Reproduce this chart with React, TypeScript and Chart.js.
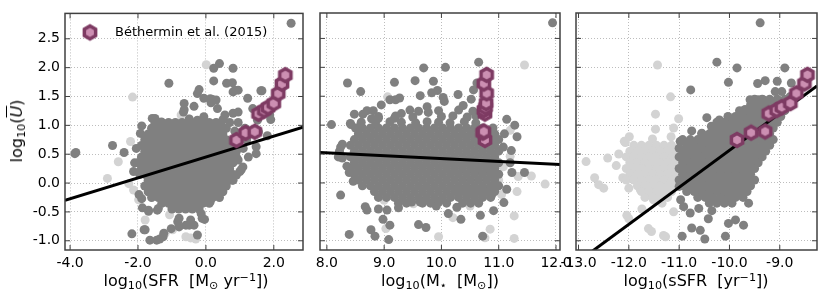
import React, { useEffect, useRef } from "react";
import { Chart, registerables } from "chart.js";

Chart.register(...registerables);

type P = [number, number];
type Row = [number, number[]]; // [U value, list of x values along that row]

// ---------- Béthermin et al. (2015) stacked points ----------
const bethU = [0.745, 0.87, 0.89, 1.2, 1.26, 1.31, 1.38, 1.55, 1.72, 1.87];
const bethSFR = [0.9, 1.17, 1.44, 1.55, 1.72, 1.83, 2.0, 2.13, 2.24, 2.34];
const bethMstar = [10.76, 10.72, 10.74, 10.76, 10.74, 10.77, 10.78, 10.79, 10.74, 10.79];
const bethSSFR = [-9.85, -9.57, -9.29, -9.22, -9.06, -8.96, -8.79, -8.67, -8.51, -8.45];

// ---------- axis ranges & ticks ----------
const uRange: P = [-1.16, 2.94];
const sfrRange: P = [-4.15, 2.86];
const mRange: P = [7.88, 12.07];
const ssfrRange: P = [-13.05, -8.26];
const uTicks = [-1, -0.5, 0, 0.5, 1, 1.5, 2, 2.5];
const sfrTicks = [-4, -2, 0, 2];
const mTicks = [8, 9, 10, 11, 12];
const ssfrTicks = [-13, -12, -11, -10, -9];

// ---------- fit lines ----------
const fitSFR = { slope: 0.181, pivot: 0, at: 0.451 };
const fitM = { slope: -0.049, pivot: 10, at: 0.421 };
const fitSSFR = { slope: 0.64, pivot: -10, at: 0.564 };

// ---------- panel 1: SFR vs U ----------
const sfrDark: P[] = [
  [2.51, 2.77], [-3.83, 0.53], [-2.75, 0.65], [-2.41, 0.53], [-2.13, 0.2], [-2.18, -0.88], [-1.82, -0.81],
  [-1.87, -0.43], [-1.69, -0.49], [-1.43, -0.47], [-1.65, -0.99], [-1.36, -0.97], [-1.24, -0.87], [-1.09, 1.73],
  [-0.79, -0.61], [-0.79, -0.76], [-0.49, -0.73], [-0.45, -0.64], [-0.25, -0.9], [-0.06, -0.34], [-0.14, -0.53],
  [-0.04, -0.63], [0.4, 2.07], [0.23, 1.99], [0.8, 1.99], [0.23, 1.77], [0.61, 1.73], [0.78, 1.74], [0.86, 1.61],
  [-0.2, 1.62], [-0.25, 1.55], [-0.06, 1.47], [0.3, 1.44], [0.15, 1.39], [0.34, 1.29], [-0.64, 1.27], [-0.49, 1.11],
  [-0.25, 1.09], [1.62, 1.6], [1.38, 1.29], [1.88, 1.18], [1.91, 1.1], [1.81, 0.82], [1.48, 0.63], [1.04, 0.23],
  [0.9, 0.14], [0.78, 0.05], [-1.58, 1.12], [-1.31, 1.06], [-1.89, 0.99], [-1.93, 0.86], [-1.84, 0.46],
  [-0.64, 1.38], [-0.35, 1.33], [-0.66, 1.23], [0.13, 1.46], [0.19, 1.45], [0.8, 1.58], [0.95, 1.61], [1.23, 1.47],
  [1.65, 1.6], [0.8, 1.21], [0.95, 1.23], [0.56, 1.18], [-0.06, 1.15], [-1.5, 1.12], [-1.52, 0.98], [1.52, 1.09],
  [1.55, 0.89], [1.86, 1.32], [1.48, 0.51], [1.09, 0.28], [1.0, 0.2], [0.8, 0.05], [0.42, -0.15], [0.13, -0.32],
  [-0.11, -0.32], [-0.11, -0.61], [-0.35, -0.73], [-0.59, -0.73], [-0.83, -0.67], [-1.02, -0.79], [-1.26, -0.93],
  [-1.45, -0.99], [-1.79, -0.81], [-1.69, -0.47], [-1.4, -0.44], [-1.89, -0.27], [-1.97, -0.2], [-3.86, 0.51],
  [1.2, 0.75], [1.1, 0.6], [1.25, 0.45], [1.15, 0.95], [0.95, 1.05], [0.7, 1.05], [0.5, 1.1], [0.85, 0.9],
  [0.9, 0.55], [0.95, 0.4], [0.6, 0.95], [0.45, 1.0], [-2.05, 0.6], [-2.1, 0.35], [-1.95, 0.15],
];
const sfrCore: Row[] = [
  [1.05, [-1.5, -1.3, -1.1, -0.9, -0.7, -0.5, -0.3, -0.1, 0.1, 0.3]],
  [0.95, [-1.6, -1.4, -1.2, -1.0, -0.8, -0.6, -0.4, -0.2, 0.0, 0.2, 0.4]],
  [0.85, [-1.7, -1.5, -1.3, -1.1, -0.9, -0.7, -0.5, -0.3, -0.1, 0.1, 0.3, 0.5]],
  [0.75, [-1.8, -1.6, -1.4, -1.2, -1.0, -0.8, -0.6, -0.4, -0.2, 0.0, 0.2, 0.4, 0.6]],
  [0.65, [-1.9, -1.7, -1.5, -1.3, -1.1, -0.9, -0.7, -0.5, -0.3, -0.1, 0.1, 0.3, 0.5, 0.7]],
  [0.55, [-1.8, -1.6, -1.4, -1.2, -1.0, -0.8, -0.6, -0.4, -0.2, 0.0, 0.2, 0.4, 0.6, 0.8]],
  [0.45, [-1.9, -1.7, -1.5, -1.3, -1.1, -0.9, -0.7, -0.5, -0.3, -0.1, 0.1, 0.3, 0.5, 0.7, 0.9]],
  [0.35, [-2.0, -1.8, -1.6, -1.4, -1.2, -1.0, -0.8, -0.6, -0.4, -0.2, 0.0, 0.2, 0.4, 0.6, 0.8]],
  [0.25, [-1.9, -1.7, -1.5, -1.3, -1.1, -0.9, -0.7, -0.5, -0.3, -0.1, 0.1, 0.3, 0.5, 0.7]],
  [0.15, [-1.8, -1.6, -1.4, -1.2, -1.0, -0.8, -0.6, -0.4, -0.2, 0.0, 0.2, 0.4, 0.6, 0.8]],
  [0.05, [-1.7, -1.5, -1.3, -1.1, -0.9, -0.7, -0.5, -0.3, -0.1, 0.1, 0.3, 0.5, 0.7]],
  [-0.05, [-1.8, -1.6, -1.4, -1.2, -1.0, -0.8, -0.6, -0.4, -0.2, 0.0, 0.2, 0.4, 0.6]],
  [-0.15, [-1.7, -1.5, -1.3, -1.1, -0.9, -0.7, -0.5, -0.3, -0.1, 0.1, 0.3, 0.5]],
  [-0.25, [-1.6, -1.4, -1.2, -1.0, -0.8, -0.6, -0.4, -0.2, 0.0, 0.2, 0.4]],
  [-0.35, [-1.3, -1.1, -0.9, -0.7, -0.5, -0.3, -0.1, 0.1]],
  [-0.45, [-1.0, -0.8, -0.6, -0.4, -0.2]],
];
const sfrLight: P[] = [
  [0.01, 2.05], [-2.16, 1.49], [-0.73, 1.18], [-0.5, 1.11], [-1.17, 0.92], [-2.22, 0.72], [-1.79, 0.76],
  [-2.58, 0.37], [-2.9, 0.08], [-2.27, -0.01], [-1.98, -0.29], [-1.79, -0.64], [-1.07, -0.55], [-0.98, -0.81],
  [-0.59, -0.93], [-0.45, -0.95], [-1.2, -0.87], [0.52, -0.01], [-1.65, 0.41], [-2.13, -0.12], [-0.3, -0.97],
];

// ---------- panel 2: M* vs U ----------
const mDark: P[] = [
  [11.94, 2.77], [10.65, 2.09], [10.07, 2.0], [9.69, 1.99], [8.36, 1.73], [9.18, 1.74], [9.54, 1.77], [9.86, 1.76],
  [8.59, 1.58], [8.08, 1.01], [8.41, 1.03], [8.22, 0.55], [8.27, 0.67], [8.24, -0.21], [8.39, -0.89], [8.67, -0.41],
  [8.7, -0.47], [8.77, -0.81], [8.84, -0.92], [9.08, -0.98], [8.98, -0.63], [9.1, -0.73], [9.05, -0.47], [8.9, -0.45],
  [9.6, -0.72], [9.73, -0.77], [10.34, -0.63], [10.68, -0.56], [10.72, -0.92], [11.09, -0.34], [11.14, -0.11],
  [11.23, 0.18], [11.45, 0.18], [11.08, 0.62], [11.22, 0.56], [11.32, 0.8], [11.28, 1.0], [11.14, 1.1], [10.56, 1.61],
  [10.62, 1.73], [8.95, 1.35], [9.1, 1.44], [9.2, 1.44], [9.27, 1.47], [9.63, 1.51], [9.83, 1.56], [9.93, 1.6],
  [10.03, 1.48], [10.05, 1.41], [10.29, 1.53], [10.38, 1.34], [10.52, 1.45], [9.75, 1.32], [9.77, 1.22], [8.81, 1.25],
  [8.48, 1.19], [8.63, 1.19], [8.78, 1.11], [8.9, 1.12], [9.18, 1.12], [9.3, 1.2], [8.42, 1.01], [8.59, 1.0],
  [8.24, 0.62], [8.2, 0.45], [8.27, 0.43], [8.35, 0.29], [8.39, 0.18], [8.46, 0.03], [9.25, -0.43], [9.48, -0.33],
  [9.63, -0.33], [9.91, -0.4], [9.95, -0.33], [10.27, -0.15], [10.45, -0.16], [10.56, -0.18], [10.76, -0.15],
  [10.88, -0.2], [10.94, -0.05], [10.91, -0.48], [10.12, -0.53], [10.27, -0.42], [11.2, 0.35], [11.1, 0.85],
  [8.7, 1.25], [9.45, 1.26], [9.6, 1.24], [9.95, 1.25], [10.3, 1.26], [10.55, 1.24],
  [8.9, 1.15], [9.2, 1.16], [9.5, 1.14], [10.0, 1.15], [10.2, 1.16], [10.45, 1.14], [10.6, 1.16],
  [8.6, 1.05], [8.85, 1.04], [9.1, 1.06], [9.3, 1.05], [9.55, 1.04], [9.75, 1.06], [9.95, 1.05], [10.15, 1.04],
  [10.4, 1.06], [10.6, 1.04], [8.5, 0.95], [10.9, 0.95],
];
const mCore: Row[] = [
  [0.95, [8.62, 8.76, 8.9, 9.04, 9.18, 9.32, 9.46, 9.6, 9.74, 9.88, 10.02, 10.16, 10.3, 10.44, 10.58, 10.72]],
  [0.85, [8.55, 8.69, 8.83, 8.97, 9.11, 9.25, 9.39, 9.53, 9.67, 9.81, 9.95, 10.09, 10.23, 10.37, 10.51, 10.65, 10.79, 10.93]],
  [0.75, [8.48, 8.62, 8.76, 8.9, 9.04, 9.18, 9.32, 9.46, 9.6, 9.74, 9.88, 10.02, 10.16, 10.3, 10.44, 10.58, 10.72, 10.86, 11.0]],
  [0.65, [8.41, 8.55, 8.69, 8.83, 8.97, 9.11, 9.25, 9.39, 9.53, 9.67, 9.81, 9.95, 10.09, 10.23, 10.37, 10.51, 10.65, 10.79, 10.93]],
  [0.55, [8.48, 8.62, 8.76, 8.9, 9.04, 9.18, 9.32, 9.46, 9.6, 9.74, 9.88, 10.02, 10.16, 10.3, 10.44, 10.58, 10.72, 10.86, 11.0]],
  [0.45, [8.41, 8.55, 8.69, 8.83, 8.97, 9.11, 9.25, 9.39, 9.53, 9.67, 9.81, 9.95, 10.09, 10.23, 10.37, 10.51, 10.65, 10.79, 10.93]],
  [0.35, [8.48, 8.62, 8.76, 8.9, 9.04, 9.18, 9.32, 9.46, 9.6, 9.74, 9.88, 10.02, 10.16, 10.3, 10.44, 10.58, 10.72, 10.86, 11.0]],
  [0.25, [8.41, 8.55, 8.69, 8.83, 8.97, 9.11, 9.25, 9.39, 9.53, 9.67, 9.81, 9.95, 10.09, 10.23, 10.37, 10.51, 10.65, 10.79, 10.93]],
  [0.15, [8.48, 8.62, 8.76, 8.9, 9.04, 9.18, 9.32, 9.46, 9.6, 9.74, 9.88, 10.02, 10.16, 10.3, 10.44, 10.58, 10.72, 10.86, 11.0]],
  [0.05, [8.55, 8.69, 8.83, 8.97, 9.11, 9.25, 9.39, 9.53, 9.67, 9.81, 9.95, 10.09, 10.23, 10.37, 10.51, 10.65, 10.79, 10.93]],
  [-0.05, [8.62, 8.76, 8.9, 9.04, 9.18, 9.32, 9.46, 9.6, 9.74, 9.88, 10.02, 10.16, 10.3, 10.44, 10.58, 10.72, 10.86, 11.0]],
  [-0.15, [8.83, 8.97, 9.11, 9.25, 9.39, 9.53, 9.67, 9.81, 9.95, 10.09, 10.23, 10.37, 10.51, 10.65, 10.79, 10.93]],
  [-0.25, [8.9, 9.04, 9.18, 9.32, 9.46, 9.6, 9.74, 9.88, 10.02, 10.16, 10.3, 10.44, 10.58, 10.72, 10.86]],
  [-0.35, [9.25, 9.39, 9.67, 9.81, 10.09, 10.37, 10.51, 10.65]],
];
const mLight: P[] = [
  [11.45, 2.04], [9.06, 1.49], [10.97, 0.8], [11.2, 0.46], [11.08, 0.28], [11.34, 0.11], [11.57, 0.12], [11.81, -0.02],
  [11.32, -0.15], [11.27, -0.57], [11.27, -0.96], [10.85, -0.8], [10.76, -0.95], [9.95, -0.93], [10.27, -0.43],
  [10.5, -0.4], [10.44, -0.09], [10.63, -0.12], [9.03, -0.79], [9.51, -0.36], [11.2, 0.91], [11.0, 0.05],
  [11.05, -0.2], [10.2, -0.6], [9.0, -0.3],
];

// ---------- panel 3: sSFR vs U ----------
const ssfrDark: P[] = [
  [-9.39, 2.77], [-10.25, 2.09], [-9.85, 1.99], [-8.9, 1.99], [-10.02, 1.74], [-10.77, 1.61], [-9.44, 1.72],
  [-9.29, 1.77], [-9.05, 1.76], [-8.77, 1.73], [-10.45, 1.13], [-10.2, 1.09], [-10.36, 0.98], [-10.75, 0.9],
  [-10.55, 0.86], [-10.98, 0.72], [-9.59, 1.44], [-9.43, 1.44], [-9.33, 1.44], [-9.09, 1.58], [-8.96, 1.58],
  [-8.8, 1.49], [-9.69, 1.27], [-9.45, 1.27], [-9.82, 1.12], [-10.08, 1.0], [-10.18, 0.86], [-10.35, 0.78],
  [-10.97, -0.29], [-10.91, -0.41], [-10.78, -0.52], [-10.75, -0.78], [-10.58, -0.82], [-10.49, -0.97],
  [-10.94, -0.92], [-10.42, -0.62], [-10.02, -0.7], [-9.88, -0.64], [-9.72, -0.73], [-10.08, -0.92],
  [-9.62, -0.35], [-10.35, -0.48], [-10.61, -0.44], [-11.0, 0.6], [-11.0, -0.06],
];
const ssfrCore: Row[] = [
  [1.45, [-9.5, -9.35, -9.2, -9.05, -8.9, -8.75]],
  [1.35, [-9.58, -9.43, -9.28, -9.13, -8.98, -8.83]],
  [1.25, [-9.8, -9.65, -9.5, -9.35, -9.2, -9.05, -8.9]],
  [1.15, [-10.03, -9.88, -9.73, -9.58, -9.43, -9.28, -9.13, -8.98]],
  [1.05, [-10.25, -10.1, -9.95, -9.8, -9.65, -9.5, -9.35, -9.2, -9.05]],
  [0.95, [-10.33, -10.18, -10.03, -9.88, -9.73, -9.58, -9.43, -9.28, -9.13]],
  [0.85, [-10.55, -10.4, -10.25, -10.1, -9.95, -9.8, -9.65, -9.5, -9.35, -9.2]],
  [0.75, [-10.93, -10.78, -10.63, -10.48, -10.33, -10.18, -10.03, -9.88, -9.73, -9.58, -9.43, -9.28, -9.13]],
  [0.65, [-10.85, -10.7, -10.55, -10.4, -10.25, -10.1, -9.95, -9.8, -9.65, -9.5, -9.35, -9.2]],
  [0.55, [-10.93, -10.78, -10.63, -10.48, -10.33, -10.18, -10.03, -9.88, -9.73, -9.58, -9.43, -9.28]],
  [0.45, [-11.0, -10.85, -10.7, -10.55, -10.4, -10.25, -10.1, -9.95, -9.8, -9.65, -9.5, -9.35]],
  [0.35, [-10.93, -10.78, -10.63, -10.48, -10.33, -10.18, -10.03, -9.88, -9.73, -9.58, -9.43]],
  [0.25, [-11.0, -10.85, -10.7, -10.55, -10.4, -10.25, -10.1, -9.95, -9.8, -9.65, -9.5]],
  [0.15, [-10.93, -10.78, -10.63, -10.48, -10.33, -10.18, -10.03, -9.88, -9.73, -9.58]],
  [0.05, [-11.0, -10.85, -10.7, -10.55, -10.4, -10.25, -10.1, -9.95, -9.8, -9.65, -9.5]],
  [-0.05, [-10.93, -10.78, -10.63, -10.48, -10.33, -10.18, -10.03, -9.88, -9.73, -9.58]],
  [-0.15, [-10.85, -10.7, -10.55, -10.4, -10.25, -10.1, -9.95, -9.8, -9.65]],
  [-0.25, [-10.63, -10.48, -10.33, -10.18, -10.03, -9.88, -9.73]],
  [-0.35, [-10.4, -10.25, -10.1, -9.95]],
];
const ssfrLight: P[] = [
  [-11.43, 2.04], [-11.17, 1.49], [-11.47, 1.19], [-11.01, 1.11], [-11.11, 0.95], [-11.47, 0.93], [-11.99, 0.8],
  [-12.09, 0.72], [-11.53, 0.76], [-11.16, 0.8], [-12.85, 0.37], [-12.42, 0.43], [-12.68, 0.09], [-12.6, -0.03],
  [-12.5, -0.09], [-12.12, 0.09], [-12.0, -0.09], [-11.77, -0.12], [-11.51, -0.29], [-11.74, -0.45], [-12.04, -0.56],
  [-12.0, -0.62], [-11.61, -0.79], [-11.55, -0.84], [-11.31, -0.91], [-11.27, -0.93], [-11.11, -0.5], [-11.34, -0.35],
  [-12.07, 0.7], [-11.87, 0.5], [-12.25, 0.3], [-12.2, 0.5],
];
const ssfrLightCore: Row[] = [
  [0.65, [-11.9, -11.75, -11.6, -11.45, -11.3, -11.15]],
  [0.55, [-11.98, -11.83, -11.68, -11.53, -11.38, -11.23, -11.08]],
  [0.45, [-12.05, -11.9, -11.75, -11.6, -11.45, -11.3, -11.15, -11.0]],
  [0.35, [-11.98, -11.83, -11.68, -11.53, -11.38, -11.23, -11.08]],
  [0.25, [-12.05, -11.9, -11.75, -11.6, -11.45, -11.3, -11.15, -11.0]],
  [0.15, [-11.98, -11.83, -11.68, -11.53, -11.38, -11.23, -11.08]],
  [0.05, [-12.05, -11.9, -11.75, -11.6, -11.45, -11.3, -11.15, -11.0]],
  [-0.05, [-11.83, -11.68, -11.53, -11.38, -11.23, -11.08]],
  [-0.15, [-11.75, -11.6, -11.45, -11.3, -11.15]],
  [-0.25, [-11.68, -11.53, -11.38, -11.23]],
];

// ---------- styling ----------
const FONT = "'DejaVu Sans', sans-serif";
const DARK = "#808080";
const LIGHT = "#d3d3d3";
const HEX_FACE = "#cc8fb2";
const HEX_EDGE = "#7e3b63";
const FRAME = "#404040";

function makeHex(): HTMLCanvasElement {
  const R = 6.5;
  const lw = 3.5;
  const size = 20;
  const c = document.createElement("canvas");
  c.width = size;
  c.height = size;
  const ctx = c.getContext("2d")!;
  ctx.beginPath();
  for (let i = 0; i < 6; i++) {
    const a = -Math.PI / 2 + (i * Math.PI) / 3;
    const x = size / 2 + R * Math.cos(a);
    const y = size / 2 + R * Math.sin(a);
    if (i === 0) ctx.moveTo(x, y);
    else ctx.lineTo(x, y);
  }
  ctx.closePath();
  ctx.fillStyle = HEX_FACE;
  ctx.fill();
  ctx.lineWidth = lw;
  ctx.strokeStyle = HEX_EDGE;
  ctx.lineJoin = "miter";
  ctx.stroke();
  return c;
}

const framePlugin = {
  id: "mplFrame",
  afterDraw(chart: any) {
    const { ctx, chartArea: a, scales } = chart;
    ctx.save();
    ctx.strokeStyle = FRAME;
    ctx.lineWidth = 1;
    const tl = 5;
    const seg = (x1: number, y1: number, x2: number, y2: number) => {
      ctx.beginPath();
      ctx.moveTo(x1, y1);
      ctx.lineTo(x2, y2);
      ctx.stroke();
    };
    for (const t of scales.x.ticks) {
      const px = scales.x.getPixelForValue(t.value);
      seg(px, a.bottom, px, a.bottom - tl);
      seg(px, a.top, px, a.top + tl);
    }
    for (const t of scales.y.ticks) {
      const py = scales.y.getPixelForValue(t.value);
      seg(a.left, py, a.left + tl, py);
      seg(a.right, py, a.right - tl, py);
    }
    ctx.lineWidth = 1.5;
    ctx.strokeRect(a.left, a.top, a.right - a.left, a.bottom - a.top);
    ctx.restore();
  },
};

function legendPlugin(img: HTMLCanvasElement, text: string) {
  return {
    id: "hexLegend",
    afterDraw(chart: any) {
      const { ctx, chartArea: a } = chart;
      ctx.save();
      const cx = a.left + 25;
      const cy = a.top + 19;
      ctx.drawImage(img, cx - img.width / 2, cy - img.height / 2);
      ctx.fillStyle = "#000";
      ctx.font = `13px ${FONT}`;
      ctx.textBaseline = "middle";
      ctx.textAlign = "left";
      ctx.fillText(text, a.left + 50, cy);
      ctx.restore();
    },
  };
}

type PanelProps = {
  left: number;
  width: number;
  yAxisW: number;
  padRight: number;
  xRange: P;
  xTicks: number[];
  showY: boolean;
  dark: P[];
  darkRows: Row[];
  light: P[];
  lightRows: Row[];
  bethX: number[];
  fit: { slope: number; pivot: number; at: number };
  legend?: boolean;
};

const HEIGHT = 308;
const TOP = 13;
const X_AXIS_H = 58;

function Panel(props: PanelProps) {
  const ref = useRef<HTMLCanvasElement>(null);
  useEffect(() => {
    const hex = makeHex();
    const toPts = (arr: P[], rows: Row[]) => {
      const out = arr.map(([x, y]) => ({ x, y }));
      for (const [y, xs] of rows) for (const x of xs) out.push({ x, y });
      return out;
    };
    const fitY = (x: number) => props.fit.at + props.fit.slope * (x - props.fit.pivot);
    const lineData = [
      { x: props.xRange[0], y: fitY(props.xRange[0]) },
      { x: props.xRange[1], y: fitY(props.xRange[1]) },
    ];
    const plugins: any[] = [framePlugin];
    if (props.legend) plugins.push(legendPlugin(hex, "Béthermin et al. (2015)"));
    const chart = new Chart(ref.current!, {
      type: "scatter",
      data: {
        datasets: [
          {
            label: "Béthermin et al. (2015)",
            data: props.bethX.map((x, i) => ({ x, y: bethU[i] })),
            pointStyle: hex as any,
            pointRadius: 8,
          } as any,
          {
            type: "line",
            label: "fit",
            data: lineData,
            borderColor: "#000",
            borderWidth: 3,
            pointRadius: 0,
            fill: false,
          } as any,
          {
            label: "galaxies",
            data: toPts(props.dark, props.darkRows),
            backgroundColor: DARK,
            borderWidth: 0,
            pointRadius: 4.5,
            pointHoverRadius: 4.5,
          },
          {
            label: "passive",
            data: toPts(props.light, props.lightRows),
            backgroundColor: LIGHT,
            borderWidth: 0,
            pointRadius: 4.5,
            pointHoverRadius: 4.5,
          },
        ],
      },
      options: {
        animation: false,
        responsive: false,
        devicePixelRatio: 1,
        events: [],
        layout: { padding: { left: 0, right: props.padRight, top: TOP, bottom: 0 } },
        plugins: { legend: { display: false }, tooltip: { enabled: false } },
        scales: {
          x: {
            type: "linear",
            min: props.xRange[0],
            max: props.xRange[1],
            afterBuildTicks: (s: any) => {
              s.ticks = props.xTicks.map((v) => ({ value: v }));
            },
            afterFit: (s: any) => {
              s.height = X_AXIS_H;
            },
            ticks: {
              color: "#000",
              font: { family: FONT, size: 14 },
              padding: 5,
              maxRotation: 0,
              autoSkip: false,
              callback: (v: any) => Number(v).toFixed(1),
            },
            grid: { color: "#bdbdbd", lineWidth: 1, drawTicks: false },
            border: { display: false, dash: [1, 2] },
          },
          y: {
            type: "linear",
            min: uRange[0],
            max: uRange[1],
            afterBuildTicks: (s: any) => {
              s.ticks = uTicks.map((v) => ({ value: v }));
            },
            afterFit: (s: any) => {
              s.width = props.yAxisW;
            },
            ticks: {
              display: props.showY,
              color: "#000",
              font: { family: FONT, size: 14 },
              padding: 5,
              autoSkip: false,
              callback: (v: any) => Number(v).toFixed(1),
            },
            grid: { color: "#bdbdbd", lineWidth: 1, drawTicks: false },
            border: { display: false, dash: [1, 2] },
          },
        },
      } as any,
      plugins,
    });
    return () => chart.destroy();
  }, []);
  return (
    <canvas
      ref={ref}
      width={props.width}
      height={HEIGHT}
      style={{ position: "absolute", left: props.left, top: 0, width: props.width, height: HEIGHT }}
    />
  );
}

const sub = (t: string) => (
  <span style={{ fontSize: "0.7em", position: "relative", top: "0.3em" }}>{t}</span>
);
const sup = (t: string) => (
  <span style={{ fontSize: "0.7em", position: "relative", top: "-0.45em" }}>{t}</span>
);

const titleStyle = (cx: number): React.CSSProperties => ({
  position: "absolute",
  left: cx,
  top: 281,
  transform: "translate(-50%, -50%)",
  fontFamily: FONT,
  fontSize: 16,
  lineHeight: 1,
  whiteSpace: "pre",
  color: "#000",
});

export default function App() {
  return (
    <div
      style={{
        position: "fixed",
        left: 0,
        top: 0,
        width: 830,
        height: 308,
        background: "#fff",
        overflow: "hidden",
      }}
    >
      <Panel
        left={0}
        width={312}
        yAxisW={65}
        padRight={4}
        xRange={sfrRange}
        xTicks={sfrTicks}
        showY={true}
        dark={sfrDark}
        darkRows={sfrCore}
        light={sfrLight}
        lightRows={[]}
        bethX={bethSFR}
        fit={fitSFR}
        legend
      />
      <Panel
        left={300}
        width={280}
        yAxisW={20}
        padRight={20}
        xRange={mRange}
        xTicks={mTicks}
        showY={false}
        dark={mDark}
        darkRows={mCore}
        light={mLight}
        lightRows={[]}
        bethX={bethMstar}
        fit={fitM}
      />
      <Panel
        left={552}
        width={278}
        yAxisW={24}
        padRight={13}
        xRange={ssfrRange}
        xTicks={ssfrTicks}
        showY={false}
        dark={ssfrDark}
        darkRows={ssfrCore}
        light={ssfrLight}
        lightRows={ssfrLightCore}
        bethX={bethSSFR}
        fit={fitSSFR}
      />
      <div style={titleStyle(186)}>
        log{sub("10")}(SFR  [M{sub("⊙")} yr{sup("−1")}])
      </div>
      <div style={titleStyle(440)}>
        log{sub("10")}(M{sub("⋆")}  [M{sub("⊙")}])
      </div>
      <div style={titleStyle(696)}>
        log{sub("10")}(sSFR  [yr{sup("−1")}])
      </div>
      <div
        style={{
          position: "absolute",
          left: 17,
          top: 131,
          transform: "translate(-50%, -50%) rotate(-90deg)",
          fontFamily: FONT,
          fontSize: 16,
          lineHeight: 1,
          whiteSpace: "pre",
          color: "#000",
        }}
      >
        log{sub("10")}(<span style={{ fontStyle: "italic", textDecoration: "overline" }}>U</span>)
      </div>
    </div>
  );
}
